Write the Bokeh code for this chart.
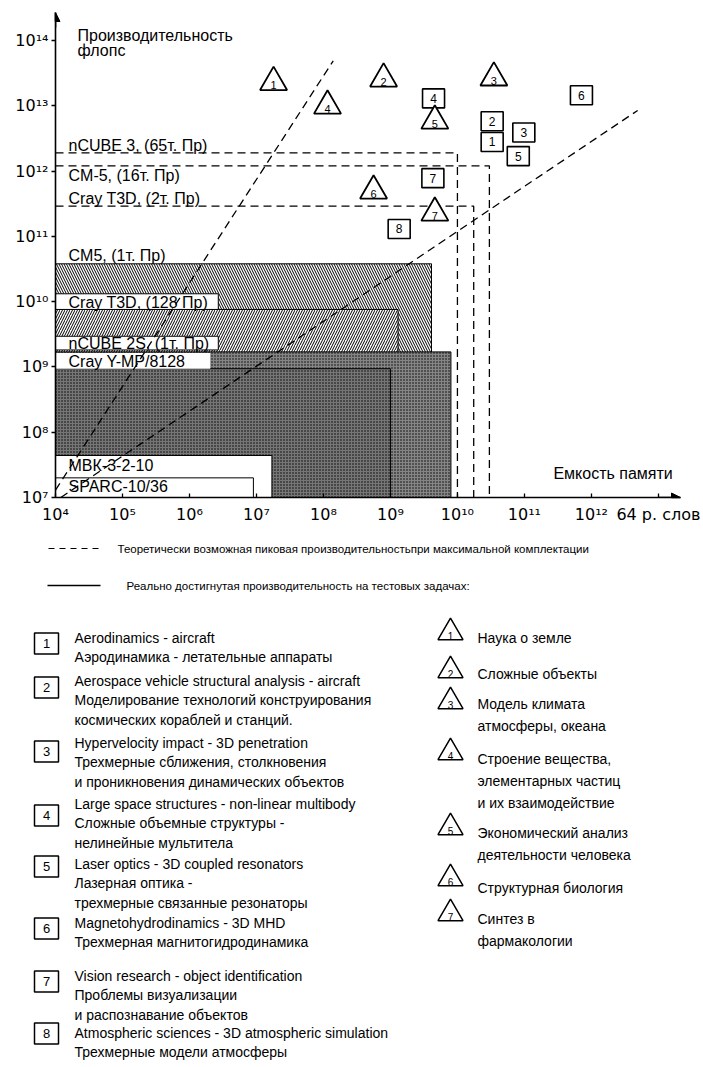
from bokeh.plotting import figure
from bokeh.layouts import column
from bokeh.models import Range1d, FixedTicker, Arrow, NormalHead
from bokeh.core.properties import value
from bokeh.embed import file_html
from bokeh.resources import INLINE

SANS = "Liberation Sans"
TICKF = "DejaVu Sans"

# ---------------- data ----------------
x_tick_exp = [4, 5, 6, 7, 8, 9, 10, 11, 12]
y_tick_exp = [7, 8, 9, 10, 11, 12, 13, 14]
x_title = "Емкость памяти"
x_units_label = "64 р. слов"
y_title = ["Производительность", "флопс"]

# theoretical peak performance (dashed)
peak_names = ["nCUBE 3, (65т. Пр)", "CM-5, (16т. Пр)", "Cray T3D, (2т. Пр)"]
peak_perf = [1.9e12, 1.2e12, 2.9e11]
peak_mem = [1.0e10, 3.0e10, 1.75e10]

# achieved performance (regions)
real_names = ["CM5, (1т. Пр)", "Cray T3D, (128 Пр)", "nCUBE 2S, (1т. Пр)",
              "Cray Y-MP/8128", "МВК-3-2-10", "SPARC-10/36"]
real_perf = [3.8e10, 7.6e9, 1.7e9, 9.4e8, 4.4e7, 2.0e7]
real_mem = [4.1e9, 1.3e9, 8.0e9, 1.0e9, 1.7e7, 9.0e6]

# trend (dashed) lines
trend_steep_mem = [1.0e4, 1.4e8]
trend_steep_perf = [1.3e7, 4.9e13]
trend_flat_mem = [1.2e4, 4.9e12]
trend_flat_perf = [1.0e7, 8.5e12]

# tasks (squares)
task_ids = ["1", "2", "3", "4", "5", "6", "7", "8"]
task_mem = [3.3e10, 3.3e10, 9.8e10, 4.4e9, 8.1e10, 7.1e11, 4.3e9, 1.35e9]
task_perf = [2.8e12, 5.8e12, 3.9e12, 1.3e13, 1.7e12, 1.45e13, 7.8e11, 1.3e11]

# fields (triangles)
field_ids = ["1", "2", "3", "4", "5", "6", "7"]
field_mem = [1.8e7, 7.9e8, 3.5e10, 1.15e8, 4.6e9, 5.6e8, 4.6e9]
field_perf = [2.3e13, 2.6e13, 2.7e13, 1.0e13, 5.9e12, 5.0e11, 2.3e11]

legend_peak = "Теоретически возможная пиковая производительностьпри максимальной комплектации"
legend_real = "Реально достигнутая производительность на тестовых задачах:"

task_texts = [
    ["Aerodinamics - aircraft", "Аэродинамика - летательные аппараты"],
    ["Aerospace vehicle structural analysis - aircraft",
     "Моделирование технологий конструирования", " космических кораблей и станций."],
    ["Hypervelocity impact - 3D penetration", "Трехмерные сближения, столкновения",
     "и проникновения динамических объектов"],
    ["Large space structures - non-linear multibody", "Сложные объемные структуры -",
     "нелинейные мультитела"],
    ["Laser optics - 3D coupled resonators", "Лазерная оптика -",
     "трехмерные связанные резонаторы"],
    ["Magnetohydrodinamics - 3D MHD", "Трехмерная магнитогидродинамика"],
    ["Vision research - object identification", "Проблемы визуализации",
     "и распознавание объектов"],
    ["Atmospheric sciences - 3D atmospheric simulation", "Трехмерные модели атмосферы"],
]
field_texts = [
    ["Наука о земле"],
    ["Сложные объекты"],
    ["Модель климата", "атмосферы, океана"],
    ["Строение вещества,", "элементарных частиц", "и их взаимодействие"],
    ["Экономический анализ", "деятельности человека"],
    ["Структурная биология"],
    ["Синтез в", "фармакологии"],
]

SUP = str.maketrans("0123456789", "⁰¹²³⁴⁵⁶⁷⁸⁹")


def pow_label(k):
    return "10" + str(k).translate(SUP)


# ---------------- chart ----------------
W = 702
H1 = 540
CF = "16px"
p = figure(width=W, height=H1, x_axis_type="log", y_axis_type="log",
           x_range=Range1d(10 ** 4, 10 ** 13.33), y_range=Range1d(10 ** 7, 10 ** 14.43),
           output_backend="svg", toolbar_location=None,
           min_border_left=55, min_border_right=22, min_border_top=12, min_border_bottom=43)
p.frame_align = False
p.outline_line_color = None
p.grid.visible = False
p.background_fill_color = "white"

x_labels = {10 ** k: pow_label(k) for k in x_tick_exp}
x_labels[10 ** 13] = x_units_label
for ax, ticks, labels in ((p.xaxis[0], [10 ** k for k in x_tick_exp] + [10 ** 13], x_labels),
                          (p.yaxis[0], [10 ** k for k in y_tick_exp],
                           {10 ** k: pow_label(k) for k in y_tick_exp})):
    ax.ticker = FixedTicker(ticks=ticks, minor_ticks=[])
    ax.major_label_overrides = labels
    ax.axis_line_width = 1.6
    ax.major_tick_line_width = 1.3
    ax.major_label_text_font = TICKF
    ax.major_label_text_font_size = "16px"
    ax.major_label_text_color = "black"
    ax.axis_line_color = "black"
p.xaxis.major_tick_in = 4
p.xaxis.major_tick_out = 0
p.xaxis.major_label_standoff = 7
p.yaxis.major_tick_in = 0
p.yaxis.major_tick_out = 4
p.yaxis.major_label_standoff = 3

# regions of achieved performance
hatch = [("\\", 5, "white", "black"), ("/", 5, "white", "black"),
         (".", 3, "#858585", "black"), (".", 3, "#767676", "black")]
for i in range(4):
    pat, sc, fc, hc = hatch[i]
    p.quad(left=1e4, right=real_mem[i], bottom=1e7, top=real_perf[i],
           fill_color=fc, hatch_pattern=pat, hatch_scale=sc, hatch_color=hc,
           hatch_weight=1, line_color="black", line_width=1)

# label boxes over the regions
lab_right = [10 ** 6.43, 10 ** 6.43, 10 ** 6.31]
for i in range(1, 4):
    p.quad(left=1e4, right=lab_right[i - 1], bottom=real_perf[i] * 10 ** (0.03 if i == 2 else 0.0),
           top=real_perf[i] * 10 ** 0.24, fill_color="white",
           line_color="black" if i < 3 else None, line_width=1)

# small machines (white boxes)
for i in (4, 5):
    p.quad(left=1e4, right=real_mem[i], bottom=1e7, top=real_perf[i],
           fill_color="white", line_color="black", line_width=1)

# peak performance dashed lines
for i in range(3):
    p.line([1e4, peak_mem[i], peak_mem[i]], [peak_perf[i], peak_perf[i], 1e7],
           line_color="black", line_dash="8 5", line_width=1.3)

# trend lines
p.line(trend_steep_mem, trend_steep_perf, line_color="black", line_dash="8 5", line_width=1.3)
p.line(trend_flat_mem, trend_flat_perf, line_color="black", line_dash="8 5", line_width=1.3)

# texts for machines
peak_off = [-7, 10, -8]
for i in range(3):
    p.text(x=[1e4], y=[peak_perf[i]], text=[peak_names[i]], x_offset=13, y_offset=peak_off[i],
           text_font=value(SANS), text_font_size=CF, text_baseline="middle", text_color="black")
real_off = [-8, -7, -8, -7, 10, 9]
for i in range(6):
    p.text(x=[1e4], y=[real_perf[i]], text=[real_names[i]], x_offset=13, y_offset=real_off[i],
           text_font=value(SANS), text_font_size=CF, text_baseline="middle", text_color="black")

# task squares
p.rect(x=task_mem, y=task_perf, width=22, height=19, width_units="screen", height_units="screen",
       fill_color="white", line_color="black", line_width=1.6)
p.text(x=task_mem, y=task_perf, text=task_ids, text_font=value(SANS), text_font_size="12px",
       text_align="center", text_baseline="middle", text_color="black")

# field triangles
p.scatter(x=field_mem, y=field_perf, marker="triangle", size=27, fill_color="white",
          line_color="black", line_width=1.8)
p.text(x=field_mem, y=field_perf, text=field_ids, text_font=value(SANS), text_font_size="11px",
       text_align="center", text_baseline="middle", y_offset=3, text_color="black")

# axis arrows
p.add_layout(Arrow(end=NormalHead(size=9, fill_color="black", line_color="black"),
                   x_start=1e4, y_start=10 ** 14.2, x_end=1e4, y_end=10 ** 14.43,
                   line_width=1.6, line_color="black"))
p.add_layout(Arrow(end=NormalHead(size=9, fill_color="black", line_color="black"),
                   x_start=10 ** 13.0, y_start=1e7, x_end=10 ** 13.33, y_end=1e7,
                   line_width=1.6, line_color="black"))

# axis titles
p.text(x=[1e4], y=[1e14], text=y_title[:1], x_offset=22, y_offset=-5,
       text_font=value(SANS), text_font_size=CF, text_baseline="middle")
p.text(x=[1e4], y=[1e14], text=y_title[1:], x_offset=22, y_offset=10,
       text_font=value(SANS), text_font_size=CF, text_baseline="middle")
p.text(x=[1e11], y=[1e7], text=[x_title], x_offset=29, y_offset=-24,
       text_font=value(SANS), text_font_size=CF, text_baseline="middle")

# ---------------- legend ----------------
top = H1
H2 = 1066 - H1
q = figure(width=W, height=H2, x_range=Range1d(0, W), y_range=Range1d(top + H2, top),
           output_backend="svg", toolbar_location=None,
           x_axis_location=None, y_axis_location=None,
           min_border=0, min_border_left=0, min_border_right=0, min_border_top=0, min_border_bottom=0)
q.frame_align = False
q.grid.visible = False
q.outline_line_color = None

LF = "14px"
q.line([48, 102], [548, 548], line_color="black", line_dash="6 5", line_width=1.2)
q.text(x=[117], y=[548], text=[legend_peak], text_font=value(SANS), text_font_size="11.5px",
       text_baseline="middle")
q.line([47, 100], [585, 585], line_color="black", line_width=1.4)
q.text(x=[126], y=[585], text=[legend_real], text_font=value(SANS), text_font_size="11.5px",
       text_baseline="middle")

task_line0 = [637, 680, 742, 803, 863, 922, 975, 1032]
task_box_y = [643, 687, 751, 815, 866, 928, 981, 1033]
q.rect(x=[46] * 8, y=task_box_y, width=24, height=21, fill_color="white",
       line_color="black", line_width=1.5)
q.text(x=[46] * 8, y=task_box_y, text=task_ids, text_font=value(SANS), text_font_size="13px",
       text_align="center", text_baseline="middle")
for i, lines in enumerate(task_texts):
    q.text(x=[74] * len(lines), y=[task_line0[i] + 19.5 * j for j in range(len(lines))],
           text=lines, text_font=value(SANS), text_font_size=LF, text_baseline="middle")

field_tri_y = [632, 670, 701, 752, 827, 878, 913]
field_line0 = [637, 673, 703, 758, 832, 887, 918]
q.scatter(x=[450] * 7, y=field_tri_y, marker="triangle", size=25, fill_color="white",
          line_color="black", line_width=1.5)
q.text(x=[450] * 7, y=field_tri_y, text=field_ids, text_font=value(SANS), text_font_size="10px",
       text_align="center", text_baseline="middle", y_offset=3)
for i, lines in enumerate(field_texts):
    q.text(x=[477] * len(lines), y=[field_line0[i] + 22 * j for j in range(len(lines))],
           text=lines, text_font=value(SANS), text_font_size=LF, text_baseline="middle")

layout = column(p, q, spacing=0)
open("out.html", "w").write(file_html(layout, INLINE))
